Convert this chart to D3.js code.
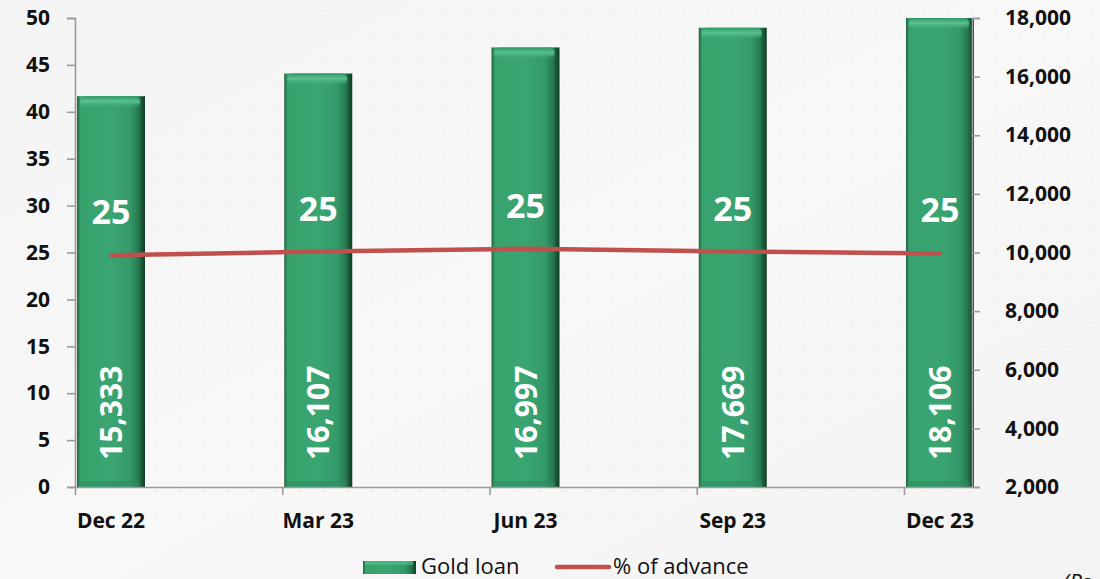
<!DOCTYPE html>
<html>
<head>
<meta charset="utf-8">
<script src="https://cdn.jsdelivr.net/npm/d3@7"></script>
<style>
  html, body { margin: 0; padding: 0; background: #f7f7f7; }
  svg { display: block; }
</style>
</head>
<body>
<svg id="chart" width="1100" height="579"></svg>
<script>
const categories = ["Dec 22", "Mar 23", "Jun 23", "Sep 23", "Dec 23"];
const goldLoan = [15333, 16107, 16997, 17669, 18106];
const pctAdvance = [24.7, 25.1, 25.4, 25.1, 24.9];
const leftTicks = [0, 5, 10, 15, 20, 25, 30, 35, 40, 45, 50];
const rightTicks = [2000, 4000, 6000, 8000, 10000, 12000, 14000, 16000, 18000];
const seriesNames = ["Gold loan", "% of advance"];
const unitNote = "(Rs. crore)";

(function () {
const W = 1100, H = 579;
const pLeft = 75, pRight = 972, pTop = 18, pBottom = 487;
const barW = 68;
const font = "'Open Sans', 'Noto Sans', sans-serif";

const svg = d3.select("#chart");
const defs = svg.append("defs");

// background
const bg = defs.append("linearGradient").attr("id", "bg").attr("x1", "0").attr("y1", "0").attr("x2", "1").attr("y2", "1");
bg.append("stop").attr("offset", "0%").attr("stop-color", "#f4f4f4");
bg.append("stop").attr("offset", "50%").attr("stop-color", "#f8f8f8");
bg.append("stop").attr("offset", "100%").attr("stop-color", "#f3f3f3");
svg.append("rect").attr("width", W).attr("height", H).attr("fill", "url(#bg)");
const pat = defs.append("pattern").attr("id", "dots").attr("width", 24).attr("height", 24).attr("patternUnits", "userSpaceOnUse");
pat.append("rect").attr("x", 10).attr("y", 10).attr("width", 3).attr("height", 2).attr("fill", "#ebebeb");
svg.append("rect").attr("x", 150).attr("y", 0).attr("width", 950).attr("height", 520).attr("fill", "url(#dots)").attr("opacity", 0.8);

// bar gradients
const gH = defs.append("linearGradient").attr("id", "barH").attr("x1", "0").attr("y1", "0").attr("x2", "1").attr("y2", "0");
[["0%", "#235f42"], ["5%", "#37a26c"], ["50%", "#3aa571"], ["78%", "#35996a"], ["90%", "#267a50"], ["100%", "#0f3a24"]]
  .forEach(([o, c]) => gH.append("stop").attr("offset", o).attr("stop-color", c));
const gTop = defs.append("linearGradient").attr("id", "barTop").attr("x1", "0").attr("y1", "0").attr("x2", "0").attr("y2", "1");
gTop.append("stop").attr("offset", "0%").attr("stop-color", "#2f9764").attr("stop-opacity", 1);
gTop.append("stop").attr("offset", "45%").attr("stop-color", "#5cc793").attr("stop-opacity", 0.9);
gTop.append("stop").attr("offset", "100%").attr("stop-color", "#3aa571").attr("stop-opacity", 0);

// scales
const x = d3.scalePoint().domain(categories).range([pLeft, 904]);
const yL = d3.scaleLinear().domain([0, 50]).range([pBottom, pTop]);
const yR = d3.scaleLinear().domain([2000, 18000]).range([pBottom, pTop]).clamp(true);
const cx = c => x(c) + 2 + barW / 2;

// bars
const bars = svg.append("g");
categories.forEach((c, i) => {
  const bx = x(c) + 2, by = yR(goldLoan[i]), bh = pBottom - by;
  bars.append("rect").attr("x", bx).attr("y", by).attr("width", barW).attr("height", bh).attr("fill", "url(#barH)");
  bars.append("rect").attr("x", bx + 3).attr("y", by).attr("width", barW - 8).attr("height", 12).attr("rx", 5).attr("fill", "url(#barTop)");
  bars.append("rect").attr("x", bx + 3).attr("y", pBottom - 6).attr("width", barW - 8).attr("height", 5).attr("fill", "#2e8c5d").attr("opacity", 0.6);
});

// axes
const axisColor = "#9a9a9a";
const gl = svg.append("g").attr("transform", `translate(${pLeft},0)`).call(d3.axisLeft(yL).tickValues(leftTicks).tickSize(8).tickPadding(17));
const gr = svg.append("g").attr("transform", `translate(${pRight},0)`).call(d3.axisRight(yR).tickValues(rightTicks).tickSize(8).tickPadding(25).tickFormat(d3.format(",")));
const gb = svg.append("g").attr("transform", `translate(0,${pBottom})`).call(d3.axisBottom(x).tickSize(8).tickFormat(""));
[gl, gr, gb].forEach(g => {
  g.select(".domain").attr("stroke", axisColor).attr("stroke-width", 1.6);
  g.selectAll(".tick line").attr("stroke", axisColor).attr("stroke-width", 1.6);
  g.selectAll("text").attr("font-family", font).attr("font-weight", 700).attr("font-size", 21).attr("fill", "#111");
});
gb.select(".domain").attr("d", `M${pLeft},0.5H${pRight}`);

// category labels
svg.append("g").selectAll("text").data(categories).join("text")
  .attr("x", d => cx(d)).attr("y", 528)
  .attr("text-anchor", "middle").attr("font-family", font).attr("font-weight", 700).attr("font-size", 21).attr("fill", "#111")
  .text(d => d);

// line
const line = d3.line().x((d, i) => cx(categories[i])).y(d => yL(d));
svg.append("path").datum(pctAdvance).attr("d", line).attr("fill", "none")
  .attr("stroke", "#c0504d").attr("stroke-width", 4.5).attr("stroke-linecap", "round").attr("stroke-linejoin", "round");

// line labels
svg.append("g").selectAll("text").data(pctAdvance).join("text")
  .attr("x", (d, i) => cx(categories[i])).attr("y", d => yL(d) - 43 + 12)
  .attr("text-anchor", "middle").attr("font-family", font).attr("font-weight", 700).attr("font-size", 34).attr("fill", "#fff")
  .text(d => d3.format(".0f")(d));

// bar value labels (rotated)
svg.append("g").selectAll("text").data(goldLoan).join("text")
  .attr("transform", (d, i) => `translate(${cx(categories[i]) + 11},460) rotate(-90)`)
  .attr("text-anchor", "start").attr("font-family", font).attr("font-weight", 700).attr("font-size", 30).attr("fill", "#fff")
  .text(d => d3.format(",")(d));

// legend
const lg = svg.append("g");
lg.append("rect").attr("x", 363).attr("y", 561).attr("width", 53).attr("height", 13).attr("fill", "url(#barH)");
lg.append("rect").attr("x", 365).attr("y", 561).attr("width", 48).attr("height", 4).attr("fill", "#4fbf88").attr("opacity", 0.7);
lg.append("text").attr("x", 421).attr("y", 574).attr("font-family", font).attr("font-size", 22).attr("fill", "#111").text(seriesNames[0]);
lg.append("line").attr("x1", 557).attr("x2", 609).attr("y1", 567).attr("y2", 567).attr("stroke", "#c0504d").attr("stroke-width", 4.5).attr("stroke-linecap", "round");
lg.append("text").attr("x", 613).attr("y", 574).attr("font-family", font).attr("font-size", 22).attr("fill", "#111").text(seriesNames[1]);

// unit note (partly outside the frame, as in the reference)
svg.append("text").attr("x", 1063).attr("y", 590).attr("font-family", font).attr("font-style", "italic").attr("font-size", 22).attr("fill", "#111").text(unitNote);
})();
</script>
</body>
</html>
